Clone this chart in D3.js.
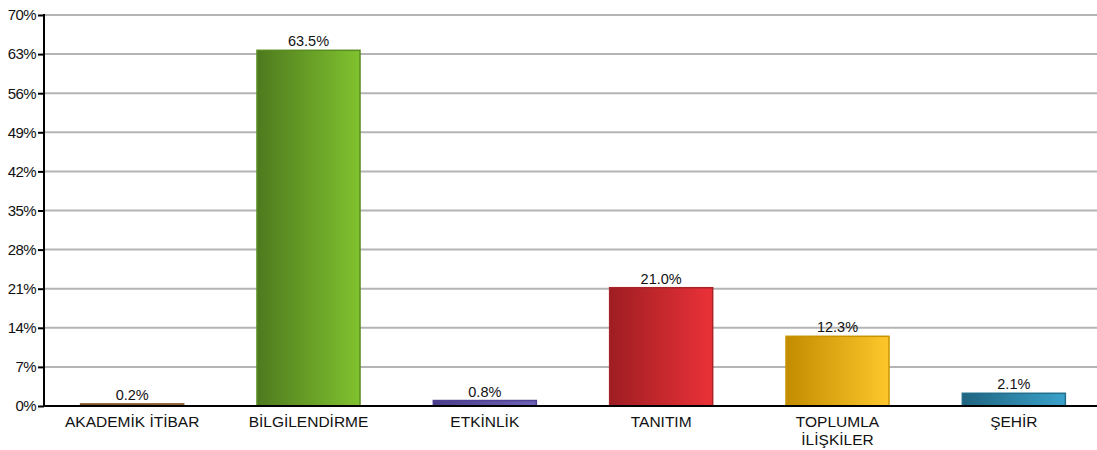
<!DOCTYPE html>
<html><head><meta charset="utf-8">
<script src="https://cdn.jsdelivr.net/npm/d3@7"></script>
<style>body{margin:0;background:#fff}svg{display:block;font-family:"Liberation Sans",Arial,sans-serif}</style>
</head><body><svg id="c" width="1097" height="450"></svg>
<script>
const categories = ["AKADEMİK İTİBAR","BİLGİLENDİRME","ETKİNLİK","TANITIM","TOPLUMLA\nİLİŞKİLER","ŞEHİR"];
const values = [0.2, 63.5, 0.8, 21.0, 12.3, 2.1];
const valueLabels = ["0.2%","63.5%","0.8%","21.0%","12.3%","2.1%"];
const yTicks = [0,7,14,21,28,35,42,49,56,63,70];
const colorDark = ["#7a4a1e","#4e7a1e","#4a3d88","#9e1d22","#c28c00","#1f6480"];
const colorLight = ["#a8743e","#80c22f","#6e62b6","#ea3238","#fdc72c","#3ba2cb"];
const colorStroke = ["#8a5a2a","#5a8c22","#4e4294","#a82428","#c99400","#22708e"];

const svg = d3.select("#c");
const m = {l:44, t:15, b:44};
const W = 1097, H = 450;
const x = d3.scaleBand().domain(d3.range(categories.length)).range([m.l, 1102]).paddingInner(0.41).paddingOuter(0.205);
const y = d3.scaleLinear().domain([0,70]).range([H - m.b, m.t]);

const defs = svg.append("defs");
categories.forEach((c,i)=>{
  const g = defs.append("linearGradient").attr("id","g"+i).attr("x1","0%").attr("x2","100%").attr("y1","0").attr("y2","0");
  g.append("stop").attr("offset","0%").attr("stop-color",colorDark[i]);
  g.append("stop").attr("offset","100%").attr("stop-color",colorLight[i]);
});

// gridlines
svg.append("g").selectAll("line").data(yTicks.filter(d=>d>0)).join("line")
  .attr("x1", m.l).attr("x2", W).attr("y1", d=>y(d)).attr("y2", d=>y(d))
  .attr("stroke","#b4b4b4").attr("stroke-width",2);

// y axis
const ya = svg.append("g").attr("transform",`translate(${m.l},0)`)
  .call(d3.axisLeft(y).tickValues(yTicks).tickFormat(d=>d+"%").tickSize(6).tickPadding(2));
ya.select(".domain").attr("stroke","#000").attr("stroke-width",2).attr("d",`M0,${y(70)-1}V${y(0)}`);
ya.selectAll(".tick line").attr("stroke","#000").attr("stroke-width",2);
ya.selectAll(".tick text").attr("font-size",15).attr("fill","#111").attr("font-family","Liberation Sans, Arial, sans-serif").attr("letter-spacing","-0.6");

// bars
svg.append("g").selectAll("rect").data(values).join("rect")
  .attr("x",(d,i)=>x(i)+0.5).attr("width",x.bandwidth()-1)
  .attr("y",d=>y(d)-1).attr("height",d=>y(0)-y(d)+1)
  .attr("fill",(d,i)=>`url(#g${i})`).attr("stroke",(d,i)=>colorStroke[i]).attr("stroke-width",1.5);

// x baseline
svg.append("line").attr("x1",m.l-1).attr("x2",W).attr("y1",y(0)).attr("y2",y(0)).attr("stroke","#000").attr("stroke-width",2);

// value labels
svg.append("g").selectAll("text").data(values).join("text")
  .attr("x",(d,i)=>x(i)+x.bandwidth()/2).attr("y",d=>y(d)-5)
  .attr("text-anchor","middle").attr("font-size",14.5).attr("fill","#111")
  .text((d,i)=>valueLabels[i]);

// category labels
const cl = svg.append("g").selectAll("text").data(categories).join("text")
  .attr("x",(d,i)=>x(i)+x.bandwidth()/2).attr("y",y(0)+21)
  .attr("text-anchor","middle").attr("font-size",15.5).attr("fill","#111");
cl.each(function(d){
  const t = d3.select(this);
  d.split("\n").forEach((s,j)=>{
    t.append("tspan").attr("x",t.attr("x")).attr("dy", j===0?0:18).text(s);
  });
});
</script></body></html>
